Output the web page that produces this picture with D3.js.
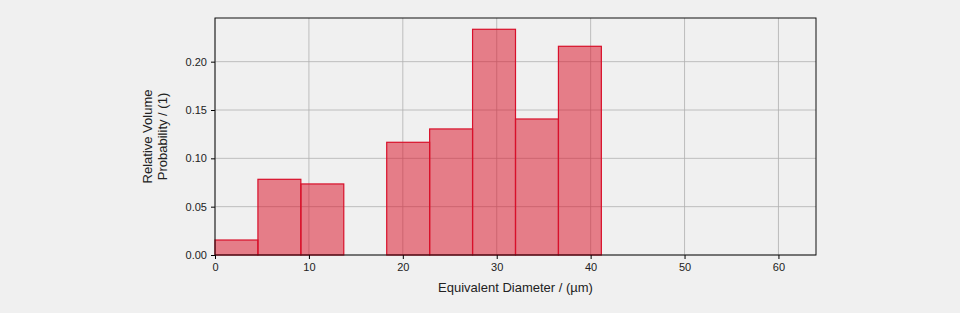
<!DOCTYPE html>
<html>
<head>
<meta charset="utf-8">
<script src="https://cdn.jsdelivr.net/npm/d3@7"></script>
<style>
  body { margin: 0; background: #f0f0f0; }
  svg { display: block; font-family: "Liberation Sans", Arial, sans-serif; }
  .tick text { font-size: 11px; fill: #222; }
</style>
</head>
<body>
<svg></svg>
<script>
var width = 960;
var height = 313;
var margin = {top: 18, right: 144, bottom: 58, left: 215};

// histogram: 14 equal bins over 0..64 µm
var binEdges = d3.range(15).map(i => i * 64 / 14);
var binValues = [0.0155, 0.0783, 0.0735, 0, 0.1166, 0.1304, 0.2335, 0.1407, 0.2159, 0, 0, 0, 0, 0];
var xTicks = [0, 10, 20, 30, 40, 50, 60];
var yTicks = [0, 0.05, 0.10, 0.15, 0.20];

var bins = binValues.map((v, i) => ({x0: binEdges[i], x1: binEdges[i + 1], value: v}));

var svg = d3.select("svg")
    .attr("width", width)
    .attr("height", height);

var x = d3.scaleLinear()
    .domain([0, 64])
    .range([margin.left, width - margin.right]);

var y = d3.scaleLinear()
    .domain([0, d3.max(binValues) * 1.05])
    .range([height - margin.bottom, margin.top]);

// grid
svg.append("g")
  .selectAll("line.gx")
  .data(xTicks)
  .enter()
  .append("line")
    .attr("x1", d => x(d))
    .attr("x2", d => x(d))
    .attr("y1", y.range()[0])
    .attr("y2", y.range()[1])
    .attr("stroke", "#b0b0b0")
    .attr("stroke-width", 0.8);

svg.append("g")
  .selectAll("line.gy")
  .data(yTicks)
  .enter()
  .append("line")
    .attr("x1", x.range()[0])
    .attr("x2", x.range()[1])
    .attr("y1", d => y(d))
    .attr("y2", d => y(d))
    .attr("stroke", "#b0b0b0")
    .attr("stroke-width", 0.8);

// bars
svg.append("g")
  .selectAll("rect")
  .data(bins)
  .enter()
  .append("rect")
    .attr("x", d => x(d.x0))
    .attr("y", d => y(d.value))
    .attr("width", d => x(d.x1) - x(d.x0))
    .attr("height", d => y(0) - y(d.value))
    .attr("fill", "rgba(218, 20, 40, 0.52)")
    .attr("stroke", "#d8102a")
    .attr("stroke-width", 1.2);

// axes
svg.append("g")
    .attr("transform", `translate(0, ${height - margin.bottom})`)
    .call(d3.axisBottom(x).tickValues(xTicks).tickFormat(d3.format("d")).tickSize(4).tickPadding(4))
    .call(g => g.select(".domain").remove());

svg.append("g")
    .attr("transform", `translate(${margin.left}, 0)`)
    .call(d3.axisLeft(y).tickValues(yTicks).tickFormat(d3.format(".2f")).tickSize(4).tickPadding(4))
    .call(g => g.select(".domain").remove());

// frame
svg.append("rect")
    .attr("x", x.range()[0])
    .attr("y", y.range()[1])
    .attr("width", x.range()[1] - x.range()[0])
    .attr("height", y.range()[0] - y.range()[1])
    .attr("fill", "none")
    .attr("stroke", "#111")
    .attr("stroke-width", 1);

// labels
svg.append("text")
    .attr("x", (x.range()[0] + x.range()[1]) / 2)
    .attr("y", 292)
    .style("text-anchor", "middle")
    .style("font-size", "13px")
    .style("fill", "#222")
    .text("Equivalent Diameter / (µm)");

var yLabel = svg.append("text")
    .attr("transform", `translate(152, ${(y.range()[0] + y.range()[1]) / 2}) rotate(-90)`)
    .style("text-anchor", "middle")
    .style("font-size", "13px")
    .style("fill", "#222");

yLabel.append("tspan").attr("x", 0).attr("dy", 0).text("Relative Volume");
yLabel.append("tspan").attr("x", 0).attr("dy", 15).text("Probability / (1)");
</script>
</body>
</html>
